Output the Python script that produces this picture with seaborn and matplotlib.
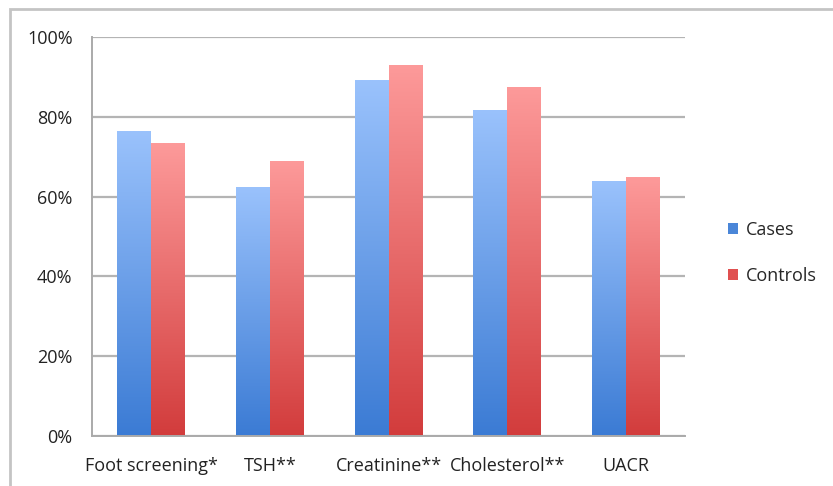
import numpy as np
import pandas as pd
import matplotlib
matplotlib.use('Agg')
import matplotlib.pyplot as plt
import seaborn as sns
from matplotlib.colors import LinearSegmentedColormap
from matplotlib.patches import Rectangle

# Data (percent)
categories = ['Foot screening*', 'TSH**', 'Creatinine**', 'Cholesterol**', 'UACR']
cases = [76.4, 62.5, 89.2, 81.8, 64.0]
controls = [73.4, 69.0, 93.0, 87.5, 64.9]
groups = ['Cases', 'Controls']

df = pd.DataFrame({
    'cat': categories * 2,
    'val': cases + controls,
    'grp': ['Cases'] * len(categories) + ['Controls'] * len(categories),
})

sns.set_style('white')
plt.rcParams['font.family'] = ['Open Sans', 'DejaVu Sans']
plt.rcParams['font.size'] = 13

fig = plt.figure(figsize=(8.33, 4.86), dpi=100)
ax = fig.add_axes([92 / 833, 1 - 436 / 486, (685 - 92) / 833, (436 - 37) / 486])

palette = {'Cases': '#4a86d8', 'Controls': '#e05050'}
sns.barplot(data=df, x='cat', y='val', hue='grp', palette=palette, width=0.573,
            ax=ax, saturation=1, linewidth=0, legend=True)

# gradient fills, light at top, darker at bottom
grad = {
    'Cases': LinearSegmentedColormap.from_list('b', ['#3b7bd4', '#9ac2fc']),
    'Controls': LinearSegmentedColormap.from_list('r', ['#d23c3c', '#fd9a9a']),
}
ramp = np.linspace(0, 1, 256).reshape(-1, 1)
for cont, g in zip(ax.containers, groups):
    for bar in cont:
        x0, w, h = bar.get_x(), bar.get_width(), bar.get_height()
        bar.set_facecolor('none')
        im = ax.imshow(ramp, cmap=grad[g], origin='lower', aspect='auto',
                       extent=[x0, x0 + w, 0, h], zorder=bar.get_zorder(),
                       interpolation='bilinear')
        im.set_clip_path(bar)

ax.set_xlim(-0.5, len(categories) - 0.5)
ax.set_ylim(0, 100)
ax.set_yticks([0, 20, 40, 60, 80, 100])
ax.set_yticklabels([f'{v}%' for v in [0, 20, 40, 60, 80, 100]])
ax.yaxis.grid(True, color='#b4b4b4', lw=1.6)
ax.set_axisbelow(True)
ax.set_xlabel('')
ax.set_ylabel('')

# tick marks at category boundaries, labels centered
ax.set_xticks(np.arange(len(categories)))
ax.set_xticklabels(categories)
ax.set_xticks(np.arange(len(categories) + 1) - 0.5, minor=True)
ax.tick_params(axis='x', which='major', length=0, pad=15, labelcolor='#222222')
ax.tick_params(axis='x', which='minor', length=6, width=1.4, color='#aaaaaa', direction='out')
ax.tick_params(axis='y', length=6, width=1.4, color='#aaaaaa', pad=8, labelcolor='#222222')

for s in ['top', 'right']:
    ax.spines[s].set_visible(False)
for s in ['left', 'bottom']:
    ax.spines[s].set_color('#aaaaaa')
    ax.spines[s].set_linewidth(1.4)

handles, labels = ax.get_legend_handles_labels()
ax.legend(handles, labels, loc='center left', bbox_to_anchor=(712 / 833, 1 - 253 / 486),
          bbox_transform=fig.transFigure, frameon=False, handlelength=0.55,
          handleheight=0.55, handletextpad=0.45, labelspacing=1.55, fontsize=13)

# outer chart frame (top and left edges visible)
fig.add_artist(Rectangle((10 / 833, -0.2), 1.2, 1.2 - 9 / 486, transform=fig.transFigure,
                         fill=False, edgecolor='#c4c4c4', lw=2))

fig.savefig('out.png', dpi=100)
